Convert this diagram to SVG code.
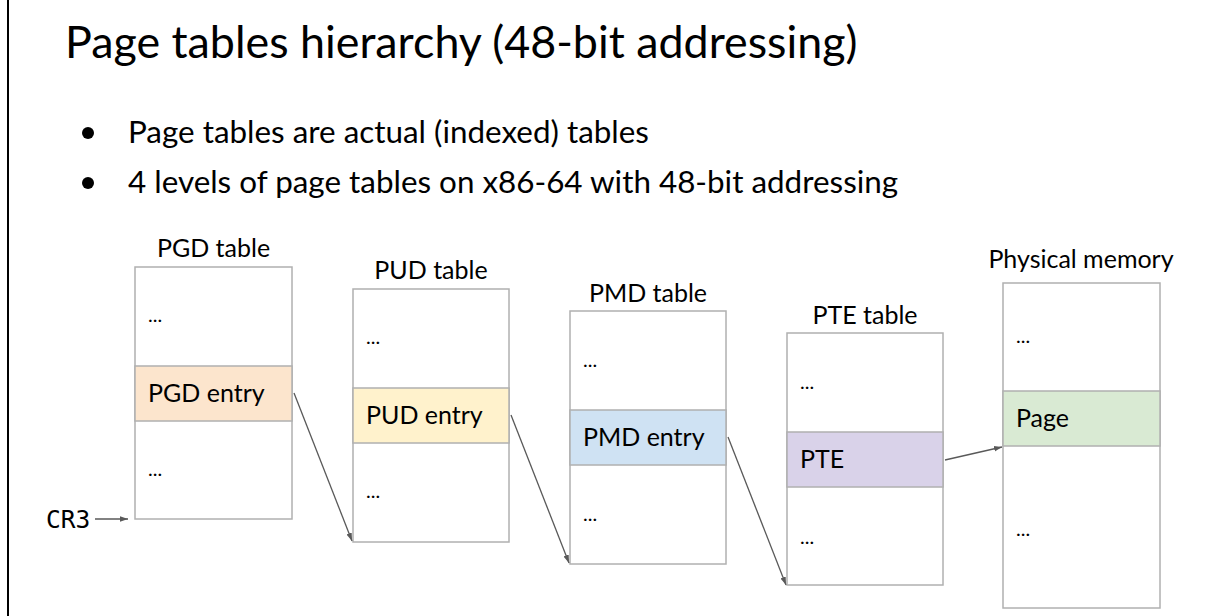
<svg xmlns="http://www.w3.org/2000/svg" width="1205" height="616" viewBox="0 0 1205 616">
<style>
text{font-family:Lato,"Liberation Sans",sans-serif;fill:#000}
.title{font-size:44.8px}
.bul{font-size:31.4px}
.lab{font-size:25px;text-anchor:middle}
.ent{font-size:25px}
.dots{font-size:20px}
.box{fill:#fff;stroke:#b0b0b0;stroke-width:1.5}
.band{stroke:#b0b0b0;stroke-width:1.5}
.con{stroke:#595959;stroke-width:1.3;fill:none;marker-end:url(#ah)}
.mono{font-family:"DejaVu Sans Mono","Liberation Mono",monospace;font-size:24.5px}
</style>
<defs>
<marker id="ah" viewBox="0 0 10 10" refX="10" refY="5" markerWidth="8" markerHeight="8" markerUnits="userSpaceOnUse" orient="auto">
<path d="M0,1.5 L10,5 L0,8.5 z" fill="#595959"/>
</marker>
</defs>
<rect width="1205" height="616" fill="#fff"/>
<line x1="8" y1="0" x2="8" y2="616" stroke="#000" stroke-width="2"/>
<text class="title" x="65" y="58">Page tables hierarchy (48-bit addressing)</text>
<g id="bullets">
<circle cx="88" cy="133" r="6" fill="#000"/>
<text class="bul" x="128" y="143">Page tables are actual (indexed) tables</text>
<circle cx="88" cy="183" r="6" fill="#000"/>
<text class="bul" x="128" y="193">4 levels of page tables on x86-64 with 48-bit addressing</text>
</g>
<g id="pgd">
<text class="lab" x="213.5" y="257">PGD table</text>
<rect class="box" x="135" y="267" width="157" height="252"/>
<rect class="band" x="135" y="366" width="157" height="55" fill="#fce5cd"/>
<text class="dots" x="148" y="322">...</text>
<text class="ent" x="148" y="402">PGD entry</text>
<text class="dots" x="148" y="476">...</text>
</g>
<g id="pud">
<text class="lab" x="431" y="279">PUD table</text>
<rect class="box" x="353" y="289" width="156" height="253"/>
<rect class="band" x="353" y="388" width="156" height="55" fill="#fff2cc"/>
<text class="dots" x="366" y="344">...</text>
<text class="ent" x="366" y="424">PUD entry</text>
<text class="dots" x="366" y="498">...</text>
</g>
<g id="pmd">
<text class="lab" x="648" y="302">PMD table</text>
<rect class="box" x="570" y="311" width="156" height="253"/>
<rect class="band" x="570" y="410" width="156" height="55" fill="#cfe2f3"/>
<text class="dots" x="583" y="367">...</text>
<text class="ent" x="583" y="446">PMD entry</text>
<text class="dots" x="583" y="521">...</text>
</g>
<g id="pte">
<text class="lab" x="865" y="324">PTE table</text>
<rect class="box" x="787" y="333" width="156" height="252"/>
<rect class="band" x="787" y="432" width="156" height="55" fill="#d9d2e9"/>
<text class="dots" x="800" y="389">...</text>
<text class="ent" x="800" y="468">PTE</text>
<text class="dots" x="800" y="544">...</text>
</g>
<g id="phys">
<text class="lab" x="1081" y="268">Physical memory</text>
<rect class="box" x="1003" y="283" width="157" height="325"/>
<rect class="band" x="1003" y="391" width="157" height="55" fill="#d9ead3"/>
<text class="dots" x="1016" y="343">...</text>
<text class="ent" x="1016" y="427">Page</text>
<text class="dots" x="1016" y="536">...</text>
</g>
<g id="cr3">
<text class="mono" x="46" y="528">CR3</text>
</g>
<g id="connectors">
<line class="con" x1="95" y1="519" x2="128" y2="519"/>
<line class="con" x1="294" y1="393" x2="352" y2="541"/>
<line class="con" x1="511" y1="415" x2="569" y2="563"/>
<line class="con" x1="728" y1="437" x2="786" y2="585"/>
<line class="con" x1="945" y1="460" x2="1002" y2="447"/>
</g>
</svg>
